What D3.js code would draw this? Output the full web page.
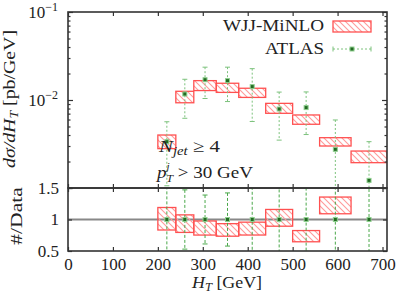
<!DOCTYPE html>
<html>
<head>
<meta charset="utf-8">
<script src="https://cdn.jsdelivr.net/npm/d3@7"></script>
<style>
  body { margin: 0; background: #fff; }
  svg text { font-family: "Liberation Serif", serif; fill: #222; font-size: 17px; }
</style>
</head>
<body>
<svg width="399" height="296"></svg>
<script>
// H_T bins [GeV]
const binEdges = [200, 240, 280, 330, 380, 440, 500, 560, 630, 710];
// WJJ-MiNLO band, lower / upper edge [pb/GeV]
const minloLow  = [2.8e-3, 9.3e-3, 1.28e-2, 1.22e-2, 1.07e-2, 7.06e-3, 5.30e-3, 3.0e-3, 1.94e-3];
const minloHigh = [4.0e-3, 1.256e-2, 1.66e-2, 1.55e-2, 1.36e-2, 9.16e-3, 6.76e-3, 3.73e-3, 2.63e-3];
// ATLAS data
const atlasX   = [220, 260, 305, 355, 410, 470, 530, 595, 670];
const atlasY   = [3.36e-3, 1.17e-2, 1.70e-2, 1.66e-2, 1.42e-2, 7.9e-3, 8.2e-3, 2.75e-3, 1.22e-3];
const atlasErr = [2.3e-3, 5.5e-3, 6.6e-3, 7.0e-3, 8.5e-3, 4.4e-3, 4.15e-3, 3.18e-3, 2.14e-3];
// ticks
const xTickValues = [0, 100, 200, 300, 400, 500, 600, 700];
const yTopMajor = [1e-3, 1e-2, 1e-1];
const yTopLabels = [1e-2, 1e-1];
const yRatioTicks = [0.5, 1, 1.5];

const svg = d3.select("svg");
const mLeft = 68, mRight = 387, mTop = 12, mMid = 188, mBottom = 251;
const frame = "#333";

const x = d3.scaleLinear().domain([0, 710]).range([mLeft, mRight]);
const y = d3.scaleLog().domain([1e-3, 1e-1]).range([mMid, mTop]);
const yr = d3.scaleLinear().domain([0.5, 1.5]).range([mBottom, mMid]);

// hatch pattern + clips
const defs = svg.append("defs");
const pat = defs.append("pattern").attr("id", "hatch")
  .attr("patternUnits", "userSpaceOnUse").attr("width", 6).attr("height", 6);
pat.append("path").attr("d", "M0,0L6,6M-1,5L1,7M5,-1L7,1")
  .attr("stroke", "#ff9a9a").attr("stroke-width", 1.1);
defs.append("clipPath").attr("id", "clipTop").append("rect")
  .attr("x", mLeft).attr("y", mTop).attr("width", mRight - mLeft).attr("height", mMid - mTop);
defs.append("clipPath").attr("id", "clipRatio").append("rect")
  .attr("x", mLeft).attr("y", mMid).attr("width", mRight - mLeft).attr("height", mBottom - mMid);

const gTop = svg.append("g").attr("clip-path", "url(#clipTop)");
const gRatio = svg.append("g").attr("clip-path", "url(#clipRatio)");

// ratio reference line
gRatio.append("line")
  .attr("x1", mLeft).attr("x2", mRight).attr("y1", yr(1)).attr("y2", yr(1))
  .attr("stroke", "#888").attr("stroke-width", 1.8);

const bins = minloLow.map((lo, i) => ({
  x0: binEdges[i], x1: binEdges[i + 1], lo: lo, hi: minloHigh[i],
  px: atlasX[i], v: atlasY[i], e: atlasErr[i]
}));

// MiNLO boxes
function boxes(g, yScale, loF, hiF) {
  g.selectAll("rect.band").data(bins).enter().append("rect")
    .attr("class", "band")
    .attr("x", d => x(d.x0))
    .attr("width", d => x(d.x1) - x(d.x0))
    .attr("y", d => yScale(hiF(d)))
    .attr("height", d => yScale(loF(d)) - yScale(hiF(d)))
    .attr("fill", "url(#hatch)")
    .attr("stroke", "#ff5050").attr("stroke-width", 1.3);
}
boxes(gTop, y, d => d.lo, d => d.hi);
boxes(gRatio, yr, d => d.lo / d.v, d => d.hi / d.v);

// data points with error bars
function points(g, yScale, val, lo, hi, col, dash) {
  const pts = g.selectAll("g.pt").data(bins).enter().append("g").attr("class", "pt");
  const ylo = d => lo(d) > 0 ? yScale(lo(d)) : mBottom + 20;
  pts.append("line")
    .attr("x1", d => x(d.px)).attr("x2", d => x(d.px))
    .attr("y1", d => yScale(hi(d))).attr("y2", ylo)
    .attr("stroke", col).attr("stroke-width", 1).attr("stroke-dasharray", dash);
  pts.append("line")
    .attr("x1", d => x(d.px) - 2.5).attr("x2", d => x(d.px) + 2.5)
    .attr("y1", d => yScale(hi(d))).attr("y2", d => yScale(hi(d)))
    .attr("stroke", col).attr("stroke-width", 1);
  pts.append("line")
    .attr("x1", d => x(d.px) - 2.5).attr("x2", d => x(d.px) + 2.5)
    .attr("y1", ylo).attr("y2", ylo)
    .attr("stroke", col).attr("stroke-width", 1);
  pts.append("rect")
    .attr("x", d => x(d.px) - 2).attr("y", d => yScale(val(d)) - 2)
    .attr("width", 4).attr("height", 4)
    .attr("fill", "#236b23").attr("stroke", "#8fcf8f").attr("stroke-width", 1);
}
points(gTop, y, d => d.v, d => d.v - d.e, d => d.v + d.e, "#7cc27c", "2,2");
points(gRatio, yr, d => 1, d => 1 - d.e / d.v, d => 1 + d.e / d.v, "#4aa84a", "3,2");

// axes
function tidy(g) {
  g.select(".domain").remove();
  g.selectAll(".tick line").attr("stroke", frame).attr("stroke-width", 1.2);
  g.selectAll(".tick text").attr("font-size", 17).attr("font-family", null).attr("fill", "#222");
}
function addAxis(tx, ty, axis) {
  svg.append("g").attr("transform", `translate(${tx},${ty})`).call(axis).call(tidy);
}
// x ticks: labelled bottom, plus inward ticks on every horizontal border
addAxis(0, mBottom, d3.axisBottom(x).tickValues(xTickValues).tickSize(-4).tickPadding(7));
addAxis(0, mMid, d3.axisBottom(x).tickValues(xTickValues).tickSize(-4).tickFormat(""));
addAxis(0, mMid, d3.axisTop(x).tickValues(xTickValues).tickSize(-4).tickFormat(""));
addAxis(0, mTop, d3.axisTop(x).tickValues(xTickValues).tickSize(-4).tickFormat(""));

// y ticks (log top panel, linear ratio panel), left and right
const yMinor = [];
[1e-3, 1e-2].forEach(dec => { for (let k = 2; k <= 9; k++) yMinor.push(dec * k); });
[[mLeft, d3.axisLeft], [mRight, d3.axisRight]].forEach(([px, ax]) => {
  addAxis(px, 0, ax(y).tickValues(yTopMajor).tickSize(-5).tickFormat(""));
  addAxis(px, 0, ax(y).tickValues(yMinor).tickSize(-2.5).tickFormat(""));
  addAxis(px, 0, ax(yr).tickValues(yRatioTicks).tickSize(-4)
    .tickFormat(px === mLeft ? d3.format("") : "").tickPadding(9));
});
const yLab = svg.selectAll("text.ylog").data(yTopLabels).enter().append("text")
  .attr("class", "ylog").attr("x", 58).attr("y", d => y(d) + 6).attr("text-anchor", "end");
yLab.append("tspan").text("10");
yLab.append("tspan").attr("dy", -7).attr("font-size", 12)
  .text(d => "\u2212" + Math.round(-Math.log10(d)));

// frames
svg.append("rect").attr("x", mLeft).attr("y", mTop).attr("width", mRight - mLeft).attr("height", mMid - mTop)
  .attr("fill", "none").attr("stroke", frame).attr("stroke-width", 1.6);
svg.append("rect").attr("x", mLeft).attr("y", mMid).attr("width", mRight - mLeft).attr("height", mBottom - mMid)
  .attr("fill", "none").attr("stroke", frame).attr("stroke-width", 1.6);

// stretch word labels to the wider TeX widths
function fit(t, len) {
  t.attr("textLength", len).attr("lengthAdjust", "spacingAndGlyphs");
  return t;
}

// axis titles
const t1 = fit(svg.append("text").attr("transform", "translate(15,99) rotate(-90)")
  .attr("text-anchor", "middle"), 138);
t1.append("tspan").attr("font-style", "italic").text("d\u03c3/dH");
t1.append("tspan").attr("font-style", "italic").attr("font-size", 12).attr("dy", 3).text("T");
t1.append("tspan").attr("dy", -3).text(" [pb/GeV]");
fit(svg.append("text").attr("transform", "translate(22,216) rotate(-90)")
  .attr("text-anchor", "middle").text("#/Data"), 58);
const t3 = fit(svg.append("text").attr("x", 227).attr("y", 288)
  .attr("text-anchor", "middle"), 70);
t3.append("tspan").attr("font-style", "italic").text("H");
t3.append("tspan").attr("font-style", "italic").attr("font-size", 12).attr("dy", 3).text("T");
t3.append("tspan").attr("dy", -3).text(" [GeV]");

// cuts
const c1 = fit(svg.append("text").attr("x", 159).attr("y", 152), 61);
c1.append("tspan").attr("font-style", "italic").text("N");
c1.append("tspan").attr("font-style", "italic").attr("font-size", 12).attr("dy", 3).text("jet");
c1.append("tspan").attr("dy", -3).text(" \u2265 4");
const c2 = fit(svg.append("text").attr("x", 157).attr("y", 178), 96);
c2.append("tspan").attr("font-style", "italic").text("p");
c2.append("tspan").attr("font-style", "italic").attr("font-size", 10).attr("dy", -8).text("j");
c2.append("tspan").attr("font-style", "italic").attr("font-size", 11).attr("dx", -3).attr("dy", 12).text("T");
c2.append("tspan").attr("dy", -4).text(" > 30 GeV");

// legend
fit(svg.append("text").attr("x", 324).attr("y", 31).attr("text-anchor", "end")
  .text("WJJ-MiNLO"), 101);
fit(svg.append("text").attr("x", 324).attr("y", 54).attr("text-anchor", "end")
  .text("ATLAS"), 59);
svg.append("rect").attr("x", 333).attr("y", 21).attr("width", 38).attr("height", 11)
  .attr("fill", "url(#hatch)").attr("stroke", "#ff5050").attr("stroke-width", 1.3);
const lg = svg.append("g");
lg.append("line").attr("x1", 333).attr("x2", 371).attr("y1", 49).attr("y2", 49)
  .attr("stroke", "#7cc27c").attr("stroke-dasharray", "2,2");
[333, 371].forEach(px => lg.append("line").attr("x1", px).attr("x2", px).attr("y1", 46.5).attr("y2", 51.5)
  .attr("stroke", "#7cc27c"));
lg.append("rect").attr("x", 350).attr("y", 47).attr("width", 4).attr("height", 4)
  .attr("fill", "#236b23").attr("stroke", "#8fcf8f");
</script>
</body>
</html>
